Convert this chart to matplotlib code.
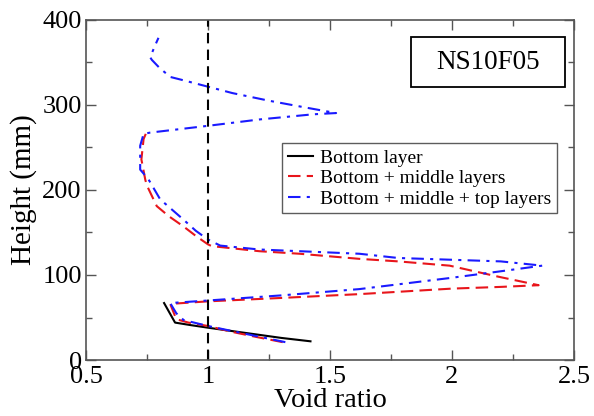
import matplotlib.pyplot as plt
from matplotlib.patches import Rectangle
from matplotlib.ticker import MultipleLocator

plt.rcParams['font.family'] = ['Liberation Serif', 'DejaVu Serif']

# void ratio profiles (void ratio, height in mm)
bottom_e = [1.42, 1.30, 1.20, 1.10, 1.00, 0.93, 0.865, 0.82]
bottom_h = [22, 26, 30, 34, 38, 41, 44, 67]

middle_e = [1.306, 1.20, 1.10, 1.00, 0.92, 0.87, 0.845, 1.00, 1.30, 1.62, 2.00,
            2.20, 2.355, 2.19, 1.99, 1.78, 1.62, 1.375, 1.21, 1.015, 1.00, 0.95,
            0.90, 0.84, 0.79, 0.75, 0.743, 0.727, 0.736, 0.745]
middle_h = [21, 27, 33, 40, 44, 48, 66, 69, 73, 77.5, 84,
            86, 88, 98, 111, 116, 119, 125, 128, 134, 136, 146,
            157, 169, 181, 205, 212, 236, 260, 266]

top_e = [1.317, 1.20, 1.10, 1.00, 0.90, 0.87, 0.845, 1.00, 1.30, 1.62, 1.99,
         2.19, 2.37, 2.20, 1.99, 1.78, 1.62, 1.375, 1.21, 1.05, 1.00, 0.95,
         0.90, 0.804, 0.756, 0.722, 0.722, 0.736, 0.763, 1.00, 1.212, 1.43,
         1.525, 1.40, 1.25, 1.10, 1.00, 0.90, 0.845, 0.80, 0.77, 0.763, 0.78,
         0.797]
top_h = [21, 28, 34, 40, 47, 55, 67, 70, 76, 83.4, 96.4,
         104, 111, 116, 118, 120, 125, 128, 130, 134.6, 141.7, 152,
         165, 189, 212.5, 224, 252, 266, 267.5, 275.5, 283, 289,
         290.5, 297, 305, 314, 321.5, 329, 333, 344, 353, 356, 368,
         379]

fig = plt.figure(figsize=(5.94, 4.16), dpi=100)
ax = fig.add_axes([0.1448, 0.1346, 0.8215, 0.8174])

ax.plot(bottom_e, bottom_h, color='black', lw=1.5, label='Bottom layer')
ax.plot(middle_e, middle_h, color='#e8151b', lw=1.5, dashes=(6, 3),
        label='Bottom + middle layers')
ax.plot(top_e, top_h, color='#1a1aff', lw=1.5, dashes=(6, 3, 1.5, 3),
        label='Bottom + middle + top layers')
ax.plot([1, 1], [0, 400], color='black', lw=1.5, dashes=(5, 3))

ax.set_xlim(0.5, 2.5)
ax.set_ylim(0, 400)
ax.xaxis.set_major_locator(MultipleLocator(0.5))
ax.xaxis.set_minor_locator(MultipleLocator(0.25))
ax.yaxis.set_major_locator(MultipleLocator(100))
ax.yaxis.set_minor_locator(MultipleLocator(50))
ax.xaxis.set_major_formatter(plt.FuncFormatter(lambda v, p: f'{v:g}'))
ax.tick_params(which='both', direction='in', top=True, right=True,
               labelsize=19, color='#555555')
ax.tick_params(which='major', length=7, width=1)
ax.tick_params(which='minor', length=4, width=1)
ax.tick_params(axis='x', pad=4)
ax.tick_params(axis='y', pad=3)
for s in ax.spines.values():
    s.set_color('#555555')
    s.set_linewidth(1.2)

ax.set_xlabel('Void ratio', fontsize=20.5, labelpad=0)
ax.set_ylabel('Height (mm)', fontsize=21, labelpad=4)

leg = ax.legend(loc='upper left', bbox_to_anchor=(0.401, 0.638), fontsize=14,
                frameon=True, fancybox=False, borderpad=0.3, labelspacing=0.15,
                handlelength=1.3, handletextpad=0.35, borderaxespad=0)
leg.get_frame().set_edgecolor('#333333')
leg.get_frame().set_linewidth(1.0)

# sample label box
ax.add_patch(Rectangle((0.666, 0.804), 0.316, 0.145, transform=ax.transAxes,
                       fc='white', ec='black', lw=1.3, zorder=5))
ax.text(0.823, 0.876, 'NS10F05', transform=ax.transAxes, fontsize=19.5,
        ha='center', va='center', zorder=6)

fig.savefig('out.png', dpi=100)
